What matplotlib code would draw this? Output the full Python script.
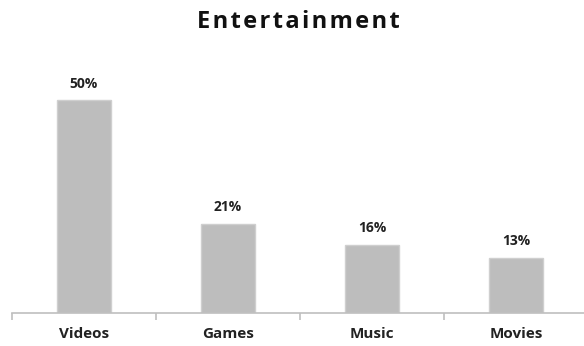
import matplotlib
matplotlib.use("Agg")
import matplotlib.pyplot as plt

categories = ["Videos", "Games", "Music", "Movies"]
values = [50, 21, 16, 13]
value_labels = ["50%", "21%", "16%", "13%"]

W, H = 584, 346
fig = plt.figure(figsize=(W/100, H/100), dpi=100)
fig.patch.set_facecolor("white")

base_y = 313
px_per = 4.26
ymax = 60
ax = fig.add_axes([12/W, (H-base_y)/H, 576/W, ymax*px_per/H])
x = list(range(len(categories)))
ax.bar(x, values, width=0.37, color="#BDBDBD",
       edgecolor="#CFCFCF", linewidth=1.0)
ax.set_xlim(-0.5, 3.5)
ax.set_ylim(0, ymax)
for s in ["top", "right", "left"]:
    ax.spines[s].set_visible(False)
ax.spines["bottom"].set_color("#BFBFBF")
ax.spines["bottom"].set_linewidth(1.2)
ax.set_yticks([])
ax.set_xticks([-0.5, 0.5, 1.5, 2.5, 3.5])
ax.set_xticklabels([])
ax.tick_params(axis="x", length=5, color="#BFBFBF", width=1.2)
for i, (c, v, l) in enumerate(zip(categories, values, value_labels)):
    ax.text(i, v + 2.2, l, ha="center", va="bottom", fontsize=10,
            fontweight="bold", family="Open Sans", color="#222222")
    ax.annotate(c, xy=(i, 0), xytext=(0, -15), textcoords="offset points",
                ha="center", va="center", fontsize=11, fontweight="bold",
                family="Open Sans", color="#222222")

fig.text(298/W, 1 - 22/H, "\u200a".join("Entertainment"),
         ha="center", va="center", fontsize=17, fontweight="bold",
         family="Open Sans", color="#111111")

fig.savefig("out.png", dpi=100, facecolor="white")
